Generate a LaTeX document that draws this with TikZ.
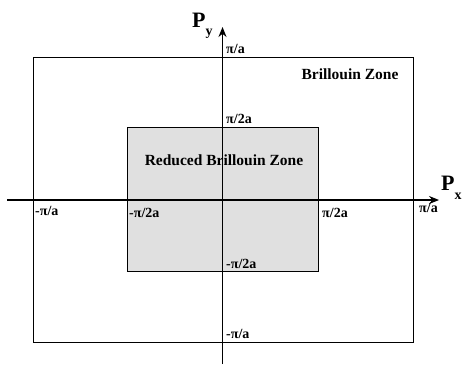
\documentclass[tikz,border=0pt]{standalone}
\usepackage{fontspec}
\setmainfont{Liberation Serif}
\usetikzlibrary{arrows.meta, positioning}

\tikzset{
  zone/.style={draw=black, line width=1pt},
  reduced/.style={zone, fill=black!12},
  axis/.style={line width=1.1pt, -{Stealth[length=10pt, width=8pt]}},
  ticklabel/.style={font=\bfseries\fontsize{14}{16}\selectfont, inner sep=0pt, anchor=base west},
  zonelabel/.style={font=\bfseries\fontsize{15.5}{18}\selectfont, inner sep=0pt},
  axislabel/.style={font=\bfseries\fontsize{22}{24}\selectfont, inner sep=0pt, anchor=base west}
}

\begin{document}
\begin{tikzpicture}[x=1pt, y=-1pt, line join=miter]
\useasboundingbox (0,0) rectangle (462,364);

% Zones
\draw[zone] (33,57) rectangle (413,342);
\draw[reduced] (127,127) rectangle (318,271);

% Axes
\coordinate (xstart) at (7,200);
\coordinate (xend) at (439,200);
\coordinate (ystart) at (222.5,364);
\coordinate (yend) at (222.5,27);
\draw[axis] (xstart) -- (xend);
\draw[axis] (ystart) -- (yend);

% Axis names
\node[axislabel] (Px) at (441,190) {P\raisebox{-9pt}{\fontsize{14}{14}\selectfont x}};
\node[axislabel] (Py) at (192,27) {P\raisebox{-8pt}{\fontsize{14}{14}\selectfont y}};

% Tick labels on the vertical axis
\node[ticklabel] (ytop) at (226,53) {π/a};
\node[ticklabel] (yhalf) at (226,123) {π/2a};
\node[ticklabel] (ymhalf) at (226,268) {-π/2a};
\node[ticklabel] (ybot) at (226,338) {-π/a};

% Tick labels on the horizontal axis
\node[ticklabel] (xleft) at (35,215) {-π/a};
\node[ticklabel] (xmhalf) at (129,217) {-π/2a};
\node[ticklabel] (xhalf) at (322,217) {π/2a};
\node[ticklabel] (xright) at (419,212) {π/a};

% Zone names
\node[zonelabel] (bz) at (350,74) {Brillouin Zone};
\node[zonelabel] (rbz) at (224,160) {Reduced Brillouin Zone};
\end{tikzpicture}
\end{document}
